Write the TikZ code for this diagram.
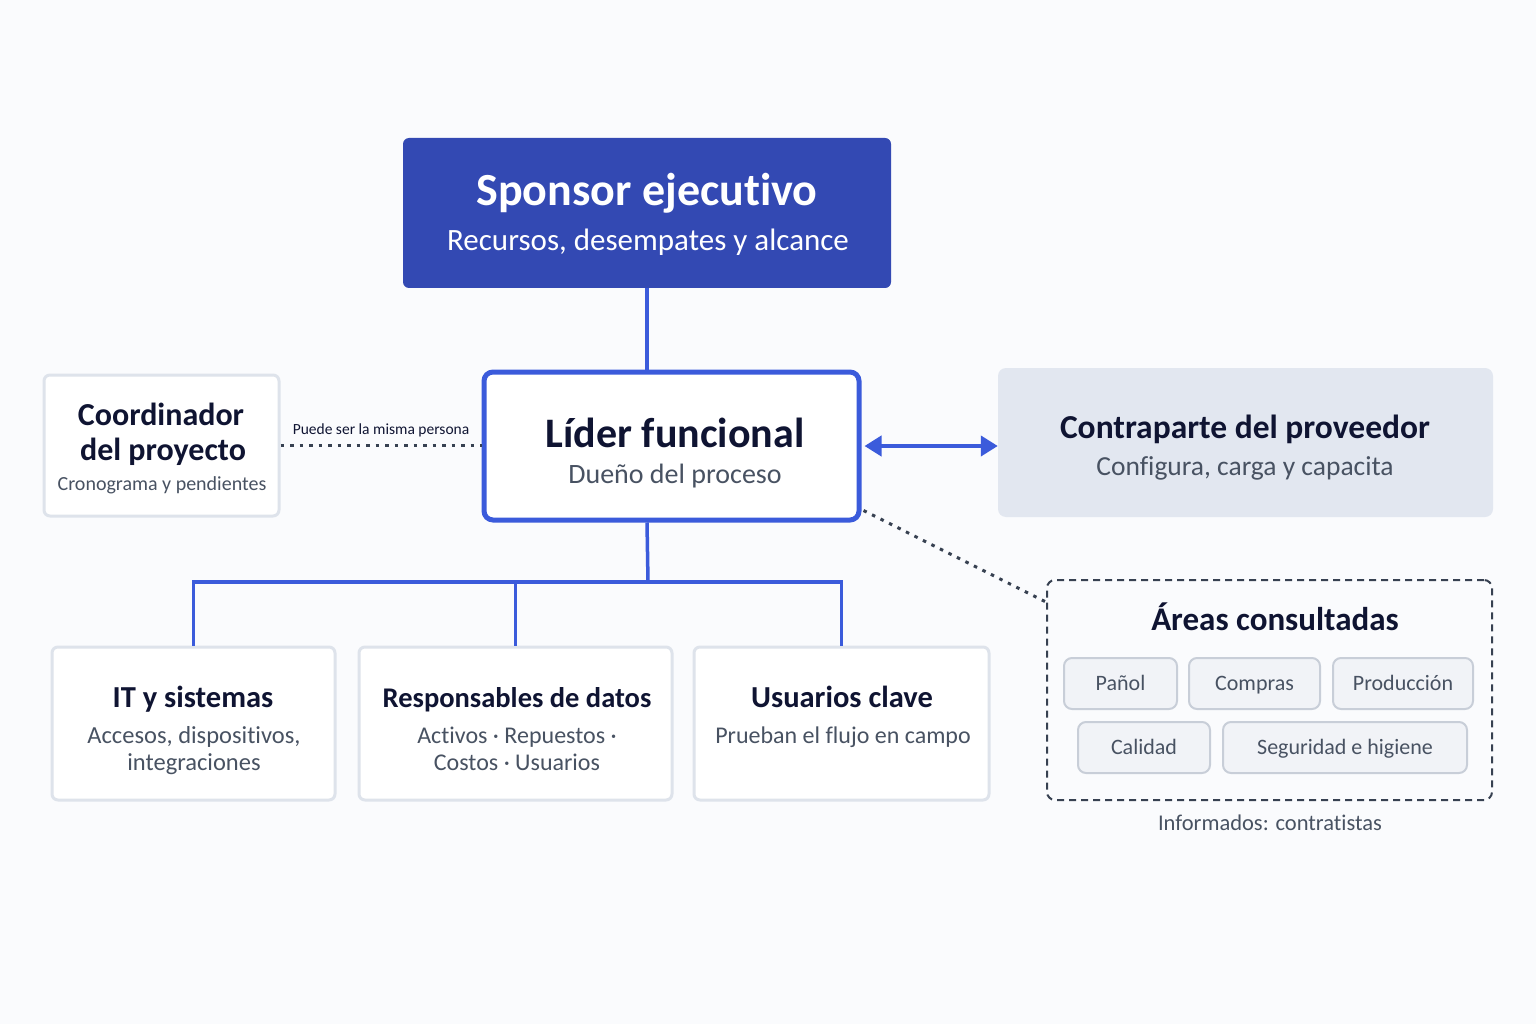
\documentclass[tikz,border=0pt]{standalone}
\usepackage{fontspec}
\setmainfont{Carlito}[Ligatures=NoCommon]
\usetikzlibrary{arrows.meta}

\definecolor{bgcol}{RGB}{250,251,253}
\definecolor{sponsorblue}{RGB}{51,73,179}
\definecolor{linkblue}{RGB}{59,91,219}
\definecolor{boxgray}{RGB}{222,227,235}
\definecolor{vendorfill}{RGB}{226,231,240}
\definecolor{chipfill}{RGB}{241,243,247}
\definecolor{chipline}{RGB}{200,206,216}
\definecolor{navy}{RGB}{15,20,50}
\definecolor{subgray}{RGB}{72,82,98}
\definecolor{dotgray}{RGB}{55,65,81}

\begin{document}
\begin{tikzpicture}[x=1pt,y=-1pt,
    box/.style={draw=boxgray,line width=3pt,fill=white,rounded corners=6pt,inner sep=0pt},
    chip/.style={draw=chipline,line width=2pt,fill=chipfill,rounded corners=8pt,
        minimum height=51pt,text height=15pt,text depth=2pt,inner sep=0pt,
        text=subgray,font=\fontsize{22}{22}\selectfont},
    ttl/.style={anchor=base,inner sep=0pt,text=navy,font=\fontsize{#1}{#1}\selectfont\bfseries},
    sub/.style={anchor=base,inner sep=0pt,text=subgray,font=\fontsize{#1}{#1}\selectfont},
    tree/.style={draw=linkblue,line width=3.5pt},
    dots/.style={draw=dotgray,line width=3pt,dash pattern=on 3.5pt off 6pt}]
    \fill[bgcol] (0,0) rectangle (1536,1024);
    \useasboundingbox (0,0) rectangle (1536,1024);

    % boxes
    \node[fill=sponsorblue,rounded corners=6pt,minimum width=488pt,minimum height=150pt] (sponsor) at (647,213) {};
    \node[box,draw=linkblue,line width=5pt,rounded corners=9pt,minimum width=375pt,minimum height=148pt] (lider) at (671.5,446) {};
    \node[box,minimum width=235pt,minimum height=141pt] (coord) at (161.5,445.5) {};
    \node[fill=vendorfill,rounded corners=8pt,minimum width=495pt,minimum height=149pt] (contra) at (1245.5,442.5) {};
    \node[draw=dotgray,line width=2pt,dash pattern=on 7pt off 5pt,rounded corners=8pt,minimum width=445pt,minimum height=220pt] (areas) at (1269.5,690) {};
    \node[box,minimum width=283pt,minimum height=153pt] (it) at (193.5,723.5) {};
    \node[box,minimum width=313pt,minimum height=153pt] (resp) at (515.5,723.5) {};
    \node[box,minimum width=295pt,minimum height=153pt] (usu) at (841.5,723.5) {};

    % texts
    \node[ttl=46,text=white] (sponsor-t) at (647,206) {Sponsor ejecutivo};
    \node[sub=31,text=white] (sponsor-s) at (648,251) {Recursos, desempates y alcance};
    \node[ttl=42] (lider-t) at (675,447) {Líder funcional};
    \node[sub=28] (lider-s) at (675,483) {Dueño del proceso};
    \node[ttl=32] (coord-t1) at (161,425) {Coordinador};
    \node[ttl=32] (coord-t2) at (163,460) {del proyecto};
    \node[sub=20] (coord-s) at (162,490) {Cronograma y pendientes};
    \node[ttl=33.5] (contra-t) at (1245,438) {Contraparte del proveedor};
    \node[sub=27.5] (contra-s) at (1245,475) {Configura, carga y capacita};
    \node[ttl=33] (areas-t) at (1275,630) {Áreas consultadas};
    \node[sub=22.5] (inform) at (1270,830) {Informados: contratistas};
    \node[ttl=30.5] (it-t) at (193,707) {IT y sistemas};
    \node[sub=24.5] (it-s1) at (194,743) {Accesos, dispositivos,};
    \node[sub=24.5] (it-s2) at (194,770) {integraciones};
    \node[ttl=28.5] (resp-t) at (517,707) {Responsables de datos};
    \node[sub=24] (resp-s1) at (517,743) {Activos · Repuestos ·};
    \node[sub=24] (resp-s2) at (517,770) {Costos · Usuarios};
    \node[ttl=30.5] (usu-t) at (842,707) {Usuarios clave};
    \node[sub=24] (usu-s) at (843,743) {Prueban el flujo en campo};

    % chips
    \foreach \n/\x/\y/\w/\t in {panol/1120.5/683.5/113/Pañol,compras/1254.5/683.5/131/Compras,
        produccion/1403/683.5/140/Producción,calidad/1144/747.5/132/Calidad,
        seguridad/1345/747.5/244/Seguridad e higiene}
        \node[chip,minimum width=\w pt] (\n) at (\x,\y) {\t};

    % connectors
    \coordinate (bus) at (648,582);
    \draw[tree] (sponsor.south) -- (sponsor.south |- lider.north);
    \draw[tree] (sponsor.south |- lider.south) -- (bus);
    \foreach \b in {it,resp,usu}
        \draw[tree] (\b.north) |- (bus);
    \draw[dots,line width=3.5pt] (coord.east) -- (lider.west |- coord.east)
        node[midway,above=7pt,inner sep=0pt,text=navy,font=\fontsize{15.5}{15.5}\selectfont] (same) {Puede ser la misma persona};
    \draw[linkblue,line width=4pt,{Triangle[length=17pt,width=20pt]}-{Triangle[length=17pt,width=20pt]}]
        ([xshift=3pt]lider.east) -- (lider.east -| contra.west);
    \draw[dots] ([yshift=12pt,xshift=2pt]lider.south east) -- ([yshift=-23pt]areas.north west);
\end{tikzpicture}
\end{document}
